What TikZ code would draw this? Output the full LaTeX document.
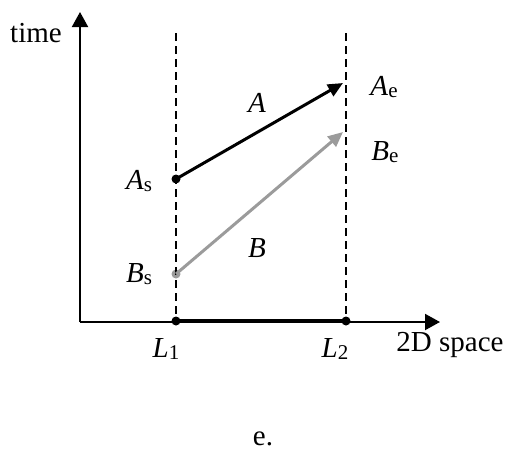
\documentclass[tikz,border=0pt]{standalone}
\usepackage{fontspec}
\setmainfont{Liberation Serif}
\usetikzlibrary{arrows.meta}
\definecolor{bgray}{RGB}{155,155,155}
\newcommand{\lsub}[1]{\raisebox{-2.5pt}{\fontsize{21}{24}\selectfont #1}}
\tikzset{
  lbl/.style={inner sep=0pt, font=\fontsize{29}{34}\selectfont},
  axis/.style={line width=2pt, -{Triangle[width=16pt,length=15pt]}},
  guide/.style={line width=1.6pt, dash pattern=on 8pt off 5pt},
  motion/.style={line width=3pt, -{Triangle[width=13pt,length=15pt]}},
  dot/.style={circle, fill, inner sep=0pt, minimum size=9pt},
}
\begin{document}
\begin{tikzpicture}[x=1pt,y=-1pt]
\useasboundingbox (0,0) rectangle (514,456);
% coordinates
\coordinate (O) at (80,322);
\coordinate (T) at (80,12);
\coordinate (X) at (440,322);
\coordinate (D1) at (176,33);
\coordinate (D2) at (346,33);
\coordinate (Ae) at (343,83);
\coordinate (Be) at (343,132);
% points
\node[dot] (L1) at (176,321) {};
\node[dot] (L2) at (346,321) {};
\node[dot] (As) at (176,179) {};
\node[dot, bgray] (Bs) at (176,274) {};
% guides
\draw[guide] (D1) -- (L1.center);
\draw[guide] (D2) -- (L2.center);
% axes
\draw[axis] (O) -- (T);
\draw[axis] (O) -- (X);
\draw[line width=4.5pt] (L1.center) -- (L2.center);
% motions
\draw[motion] (As.center) -- (Ae);
\draw[motion, bgray] (Bs.center) -- (Be);
% labels
\node[lbl] (time) at (36,33) {time};
\node[lbl] (space) at (450,345) {2D space};
\node[lbl] (l1) at (166,349) {\textit{L}\lsub{1}};
\node[lbl] (l2) at (335,349) {\textit{L}\lsub{2}};
\node[lbl] (as) at (139,181) {\textit{A}\lsub{s}};
\node[lbl] (bs) at (139,274) {\textit{B}\lsub{s}};
\node[lbl] (ae) at (384,87) {\textit{A}\lsub{e}};
\node[lbl] (be) at (385,152) {\textit{B}\lsub{e}};
\node[lbl] (a) at (257,103) {\textit{A}};
\node[lbl] (b) at (257,248) {\textit{B}};
\node[lbl] (cap) at (263,439) {e.};
\end{tikzpicture}
\end{document}
